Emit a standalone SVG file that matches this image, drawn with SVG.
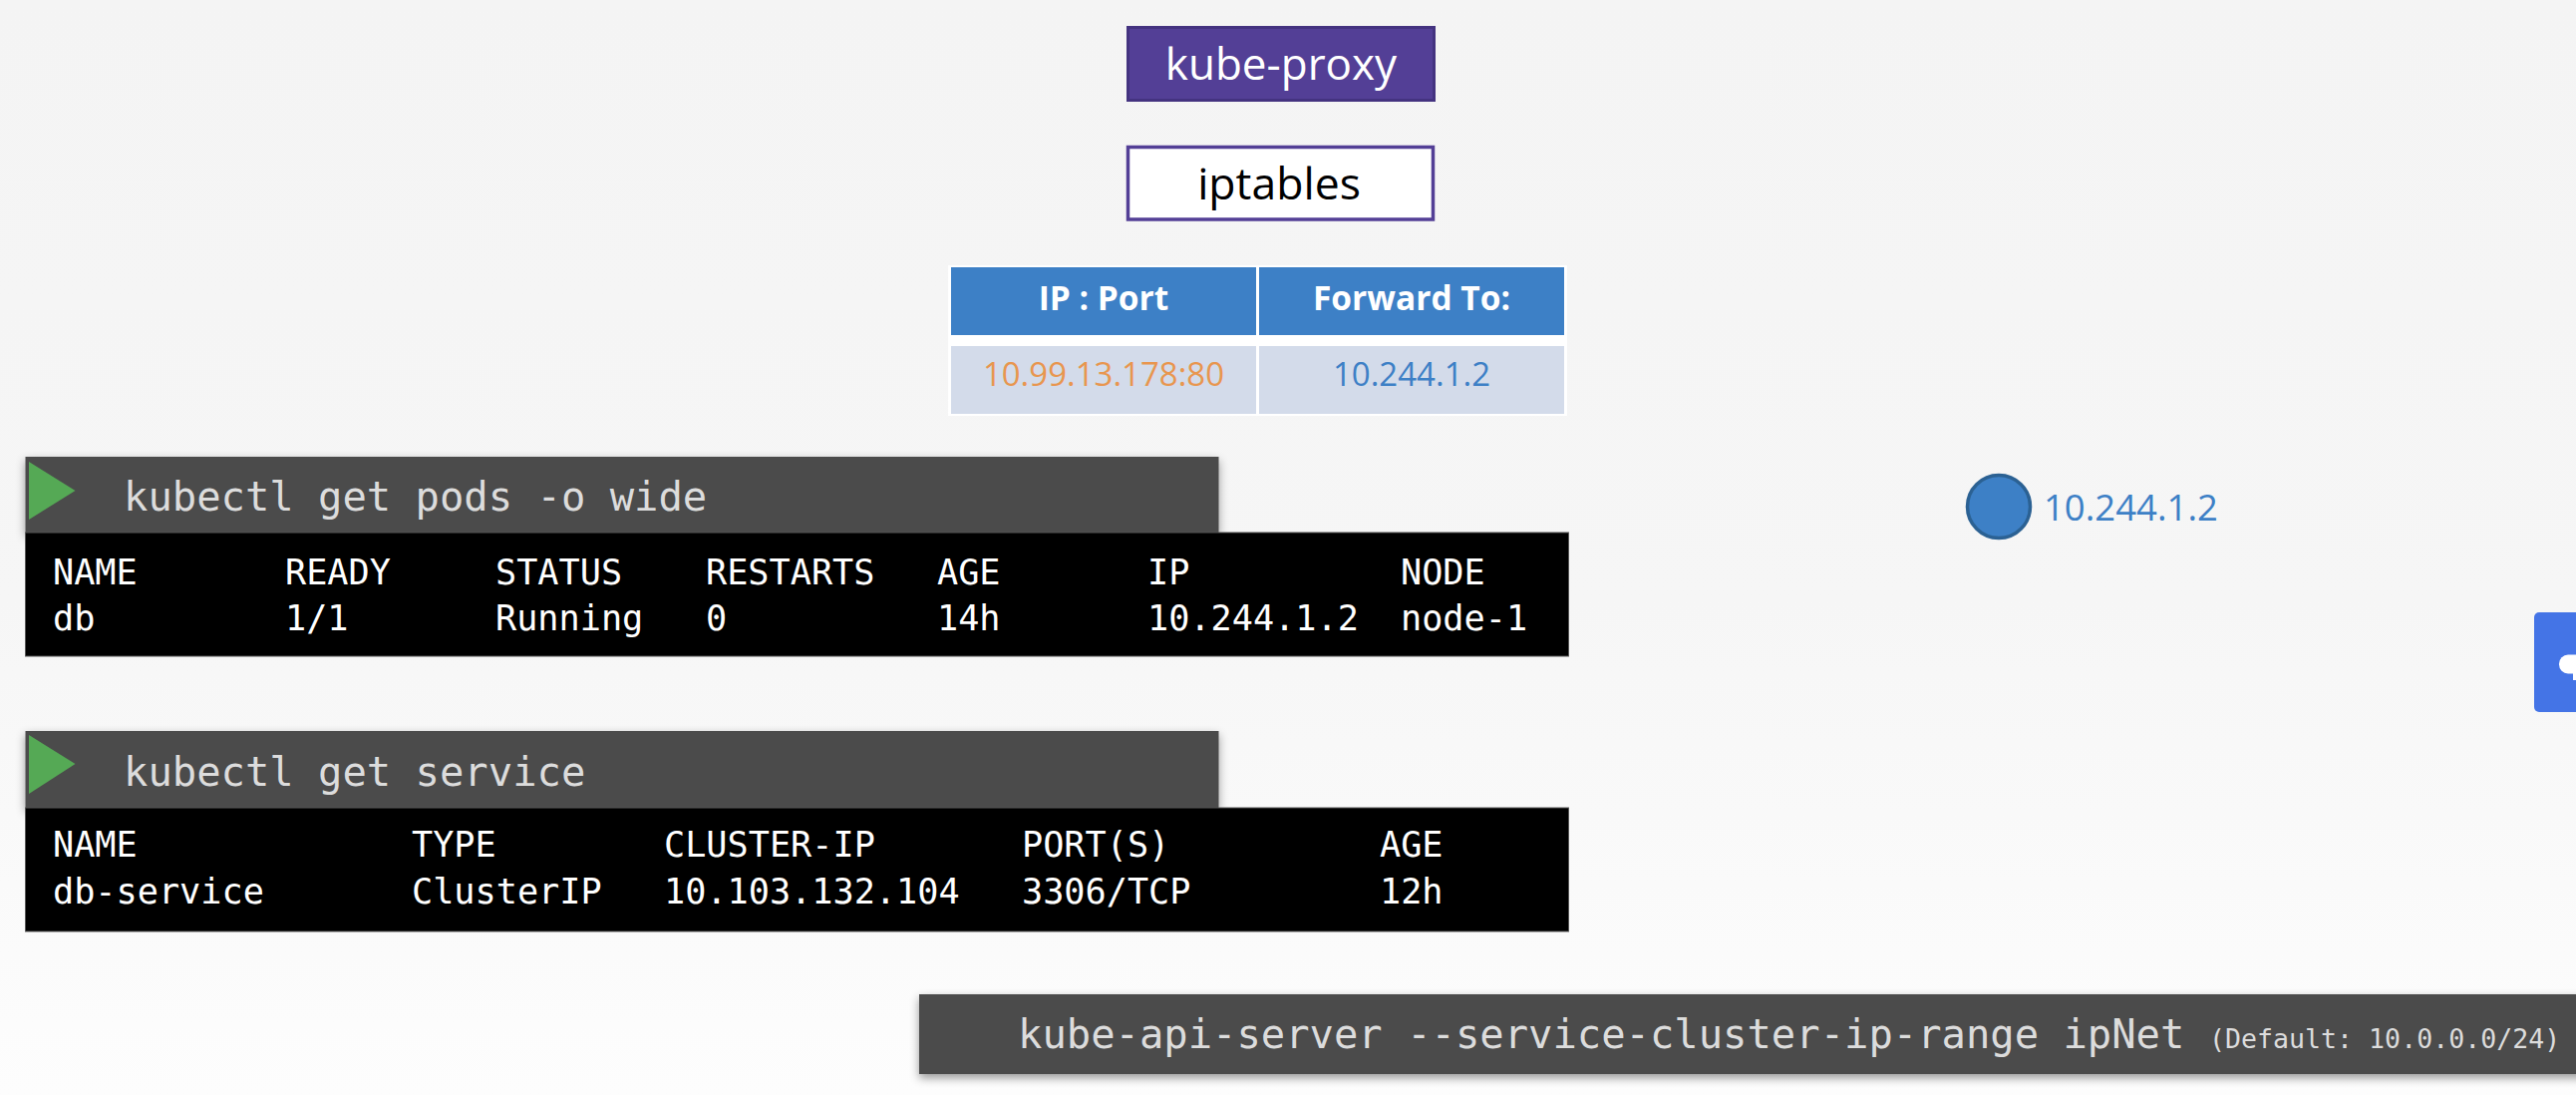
<svg xmlns="http://www.w3.org/2000/svg" width="2584" height="1098" viewBox="0 0 2584 1098">
<style>
.ui{font-family:"Open Sans","Noto Sans",sans-serif}
.mono{font-family:"DejaVu Sans Mono","Liberation Mono",monospace}
.cmd{font-size:40.500px;fill:#dcdcdc}
.out{font-size:35.200px;fill:#fff}
.bar{fill:#4b4b4b;filter:url(#sh)}
.blk{fill:#000;stroke:#555;stroke-width:1}
.tri{fill:#55a955}
.hd{fill:#3d80c6}
.cell{fill:#d3dbea}
.th{font-size:33.500px;font-weight:700;fill:#fff;text-anchor:middle}
.td{font-size:33px;text-anchor:middle}
</style>
<defs>
<linearGradient id="bg" x1="0" y1="0" x2="0" y2="1"><stop offset="0" stop-color="#f4f4f4"/><stop offset="0.55" stop-color="#f6f6f6"/><stop offset="1" stop-color="#fdfdfd"/></linearGradient>
<filter id="sh" x="-3%" y="-20%" width="106%" height="150%"><feDropShadow dx="0" dy="4" stdDeviation="5" flood-color="#000" flood-opacity="0.4"/></filter>
</defs>
<rect id="background" width="2584" height="1098" fill="url(#bg)"/>
<g id="connectors"/>
<g id="kube-proxy">
<rect x="1131.500" y="27.500" width="307" height="73" fill="#533f96" stroke="#443380" stroke-width="3"/>
<text class="ui" x="1285" y="80" font-size="44" fill="#fff" text-anchor="middle">kube-proxy</text>
</g>
<g id="iptables">
<rect x="1131.500" y="147.500" width="306" height="72.500" fill="#fff" stroke="#533f96" stroke-width="3.500"/>
<text class="ui" x="1283" y="200" font-size="44.500" fill="#000" text-anchor="middle">iptables</text>
</g>
<g id="iptables-table">
<rect x="951" y="266" width="621" height="151" fill="#fff"/>
<rect class="hd" x="954" y="268" width="306" height="68"/>
<rect class="hd" x="1263" y="268" width="306" height="68"/>
<rect class="cell" x="954" y="347" width="306" height="68"/>
<rect class="cell" x="1263" y="347" width="306" height="68"/>
<text class="ui th" x="1107" y="311">IP : Port</text>
<text class="ui th" x="1416" y="311">Forward To:</text>
<text class="ui td" x="1107" y="387" fill="#e8964f">10.99.13.178:80</text>
<text class="ui td" x="1416" y="387" fill="#3d80c6">10.244.1.2</text>
</g>
<g id="get-pods">
<rect class="bar" x="25.500" y="458" width="1197" height="76"/>
<rect class="blk" x="25.500" y="534" width="1548" height="124"/>
<polygon class="tri" points="29,463 75.500,492 29,521"/>
<text class="mono cmd" x="124" y="512">kubectl get pods -o wide</text>
<g class="mono out">
<text x="53" y="586">NAME</text><text x="286" y="586">READY</text><text x="497" y="586">STATUS</text><text x="708" y="586">RESTARTS</text><text x="940" y="586">AGE</text><text x="1151" y="586">IP</text><text x="1405" y="586">NODE</text>
<text x="53" y="632">db</text><text x="286" y="632">1/1</text><text x="497" y="632">Running</text><text x="708" y="632">0</text><text x="940" y="632">14h</text><text x="1151" y="632">10.244.1.2</text><text x="1405" y="632">node-1</text>
</g>
</g>
<g id="get-service">
<rect class="bar" x="25.500" y="733" width="1197" height="77"/>
<rect class="blk" x="25.500" y="810" width="1548" height="124"/>
<polygon class="tri" points="29,737 75.500,766 29,796"/>
<text class="mono cmd" x="124" y="788">kubectl get service</text>
<g class="mono out">
<text x="53" y="859">NAME</text><text x="413" y="859">TYPE</text><text x="666" y="859">CLUSTER-IP</text><text x="1025" y="859">PORT(S)</text><text x="1384" y="859">AGE</text>
<text x="53" y="906">db-service</text><text x="413" y="906">ClusterIP</text><text x="666" y="906">10.103.132.104</text><text x="1025" y="906">3306/TCP</text><text x="1384" y="906">12h</text>
</g>
</g>
<g id="api-server">
<rect class="bar" x="922" y="997" width="1680" height="80"/>
<text class="mono cmd" x="1021" y="1051">kube-api-server --service-cluster-ip-range ipNet</text>
<text class="mono" x="2216" y="1051" font-size="26.600" fill="#dcdcdc">(Default: 10.0.0.0/24)</text>
</g>
<g id="pod">
<ellipse cx="2005" cy="508" rx="31.500" ry="31.500" fill="#3d80c6" stroke="#2b6193" stroke-width="3.500"/>
<text class="ui" x="2050" y="522" font-size="36.500" fill="#3d80c6">10.244.1.2</text>
</g>
<g id="side-tab">
<rect x="2542" y="614" width="60" height="100" rx="5" fill="#4474e6"/>
<rect x="2567" y="656.500" width="40" height="19" rx="9" fill="#fff"/>
<rect x="2581" y="670" width="6" height="12" fill="#fff"/>
</g>
</svg>
